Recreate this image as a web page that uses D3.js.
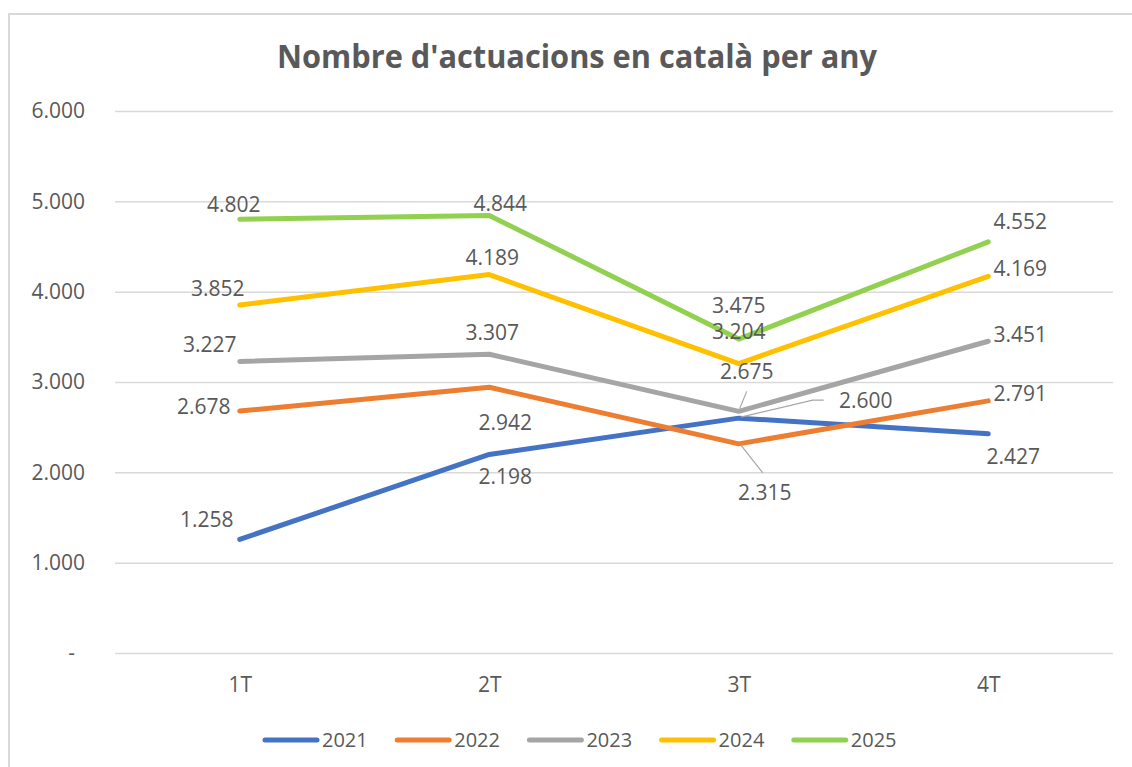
<!DOCTYPE html>
<html>
<head>
<meta charset="utf-8">
<script src="https://cdn.jsdelivr.net/npm/d3@7"></script>
<style>
  body { margin: 0; background: #fff; }
  svg text { font-family: "Open Sans", sans-serif; fill: #595959; }
</style>
</head>
<body>
<div id="chart-area"></div>
<script>
// Dades del gràfic
const categories = ["1T", "2T", "3T", "4T"];
const years = ["2021", "2022", "2023", "2024", "2025"];
const values2021 = [1258, 2198, 2600, 2427];
const values2022 = [2678, 2942, 2315, 2791];
const values2023 = [3227, 3307, 2675, 3451];
const values2024 = [3852, 4189, 3204, 4169];
const values2025 = [4802, 4844, 3475, 4552];
const yTicks = [0, 1000, 2000, 3000, 4000, 5000, 6000];

const colors = ["#4472C4", "#ED7D31", "#A5A5A5", "#FFC000", "#92D050"];

// desplaçament de les etiquetes respecte del punt (dx, dy a la línia base)
const labelOffsets = [
    [[-33, -12], [16, 30], [127, -10], [25, 30]],
    [[-36, 3], [16, 43], [26, 56], [32, 0]],
    [[-30, -9], [3, -14], [8, -32], [32, 1]],
    [[-22, -9], [3, -10], [0, -25], [32, 0]],
    [[-6, -7], [11, -4], [0, -26], [32, -13]]
];
// línies guia (punts relatius al punt de dades)
const leaders = [
    { s: 0, c: 2, pts: [[2, -1], [74, -18], [85, -18]] },
    { s: 1, c: 2, pts: [[2, 1], [24, 29]] },
    { s: 2, c: 2, pts: [[1, -3], [8, -20]] }
];

const series = [values2021, values2022, values2023, values2024, values2025];

const width = 1132;
const height = 767;

const fmtLocale = d3.formatLocale({ decimal: ",", thousands: ".", grouping: [3], currency: ["", ""] });
const fmt = fmtLocale.format(",d");

const svg = d3.select("#chart-area")
    .append("svg")
    .attr("width", width)
    .attr("height", height);

// vora del gràfic
svg.append("rect")
    .attr("x", 9)
    .attr("y", 14)
    .attr("width", 1200)
    .attr("height", 800)
    .attr("fill", "none")
    .attr("stroke", "#D9D9D9")
    .attr("stroke-width", 2);

svg.append("text")
    .attr("x", 577)
    .attr("y", 68)
    .attr("text-anchor", "middle")
    .attr("font-size", 32)
    .attr("font-weight", "bold")
    .attr("textLength", 600)
    .attr("lengthAdjust", "spacingAndGlyphs")
    .text("Nombre d'actuacions en català per any");

const x = d3.scalePoint()
    .domain(categories)
    .range([115, 1113])
    .padding(0.5);

const y = d3.scaleLinear()
    .domain([0, 6000])
    .range([653, 111]);

// eix Y amb línies de quadrícula
const yAxis = svg.append("g")
    .attr("transform", "translate(115,0)")
    .call(d3.axisLeft(y)
        .tickValues(yTicks)
        .tickSize(-998)
        .tickPadding(30)
        .tickFormat(d => d === 0 ? "-" : fmt(d)));
yAxis.select(".domain").remove();
yAxis.selectAll(".tick line").attr("stroke", "#D9D9D9").attr("stroke-width", 1.5);
yAxis.selectAll(".tick text")
    .attr("font-size", 21)
    .attr("fill", "#595959")
    .attr("x", d => d === 0 ? -40 : -30);

const xAxis = svg.append("g")
    .attr("transform", "translate(0,653)")
    .call(d3.axisBottom(x).tickSize(0).tickPadding(24));
xAxis.select(".domain").remove();
xAxis.selectAll(".tick text").attr("font-size", 21).attr("fill", "#595959");

const line = d3.line()
    .x((d, i) => x(categories[i]))
    .y(d => y(d));

svg.selectAll("path.serie")
    .data(series)
    .enter()
    .append("path")
    .attr("class", "serie")
    .attr("d", d => line(d))
    .attr("fill", "none")
    .attr("stroke", (d, i) => colors[i])
    .attr("stroke-width", 5)
    .attr("stroke-linecap", "round")
    .attr("stroke-linejoin", "round");

// línies guia
leaders.forEach(l => {
    const px = x(categories[l.c]);
    const py = y(series[l.s][l.c]);
    svg.append("polyline")
        .attr("points", l.pts.map(p => `${px + p[0]},${py + p[1]}`).join(" "))
        .attr("fill", "none")
        .attr("stroke", "#A6A6A6")
        .attr("stroke-width", 1.2);
});

// etiquetes de dades
series.forEach((vals, s) => {
    svg.append("g")
        .selectAll("text")
        .data(vals)
        .enter()
        .append("text")
        .attr("x", (d, i) => x(categories[i]) + labelOffsets[s][i][0])
        .attr("y", (d, i) => y(d) + labelOffsets[s][i][1])
        .attr("text-anchor", "middle")
        .attr("font-size", 21)
        .attr("fill", "#404040")
        .text(d => fmt(d));
});

// llegenda
const legend = svg.append("g")
    .selectAll("g")
    .data(years)
    .enter()
    .append("g")
    .attr("transform", (d, i) => `translate(${265 + i * 132.2},740)`);

legend.append("line")
    .attr("x1", 0)
    .attr("x2", 52)
    .attr("stroke", (d, i) => colors[i])
    .attr("stroke-width", 5)
    .attr("stroke-linecap", "round");

legend.append("text")
    .attr("x", 57)
    .attr("dy", "0.35em")
    .attr("font-size", 20)
    .text(d => d);
</script>
</body>
</html>
